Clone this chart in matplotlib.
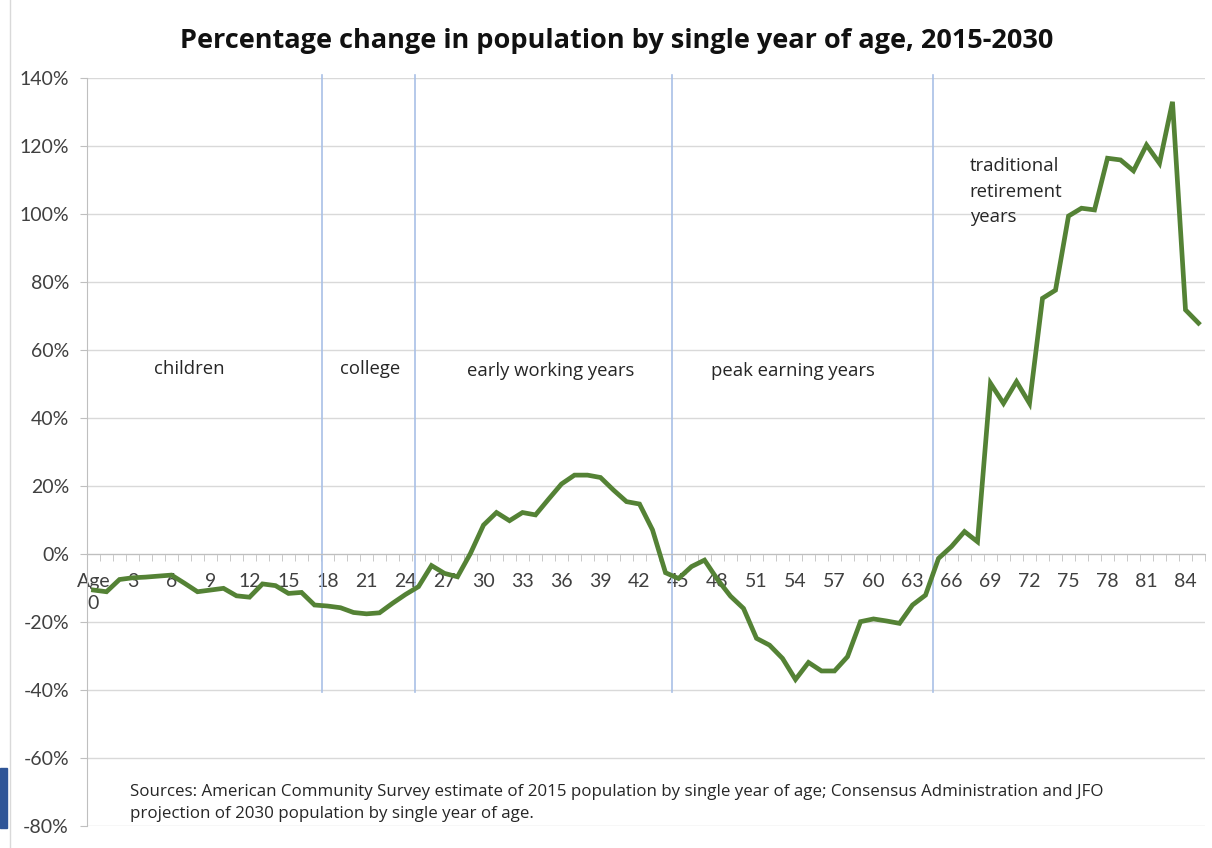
import numpy as np
import matplotlib
matplotlib.use("Agg")
import matplotlib.pyplot as plt
from matplotlib.ticker import FixedLocator, PercentFormatter
from matplotlib.patches import Rectangle
from matplotlib.lines import Line2D

plt.rcParams["font.family"] = ["Lato", "DejaVu Sans"]
plt.rcParams["axes.unicode_minus"] = False

# percentage change 2015 -> 2030, ages 0..85
ages = np.arange(0, 86)
pct_change = [
    -10.6, -11.1, -7.5, -7.0, -6.8, -6.5, -6.2, -8.6, -11.1, -10.6,
    -10.1, -12.3, -12.7, -8.8, -9.3, -11.6, -11.3, -15.0, -15.3, -15.8,
    -17.2, -17.6, -17.3, -14.5, -11.9, -9.6, -3.4, -5.7, -6.7, 0.2,
    8.5, 12.2, 9.8, 12.2, 11.5, 16.1, 20.6, 23.2, 23.2, 22.5,
    18.8, 15.4, 14.7, 7.1, -5.5, -7.2, -3.7, -1.8, -7.5, -12.4,
    -16.0, -24.8, -26.8, -30.7, -36.9, -31.9, -34.4, -34.4, -30.2, -19.9,
    -19.1, -19.7, -20.4, -15.0, -12.1, -1.3, 2.2, 6.6, 3.6, 50.2,
    44.3, 50.7, 44.3, 75.2, 77.6, 99.4, 101.7, 101.2, 116.4, 115.9,
    112.7, 120.3, 114.9, 133.0, 71.8, 67.9,
]

# life-stage dividers (category position) and labels
divider_x = [17.6, 24.7, 44.5, 64.55]
stage_labels = ["children", "college", "early working years", "peak earning years"]
stage_x = [7.4, 21.3, 35.2, 53.8]
stage_y = [54.4, 54.4, 53.8, 53.8]

yticks = list(range(-80, 141, 20))
xtick_ages = list(range(0, 85, 3))
xtick_labels = ["Age\n0"] + [str(a) for a in xtick_ages[1:]]

body_font = ["Open Sans", "DejaVu Sans"]

fig = plt.figure(figsize=(12.12, 8.48), dpi=100, facecolor="white")
ax = fig.add_axes([87 / 1212, 1 - 826 / 848, (1205 - 87) / 1212, (826 - 78) / 848])

ax.set_xlim(-0.5, 85.5)
ax.set_ylim(-80, 140)

ax.yaxis.set_major_locator(FixedLocator(yticks))
ax.yaxis.set_major_formatter(PercentFormatter(decimals=0))
ax.grid(axis="y", color="#d9d9d9", linewidth=1)
ax.set_axisbelow(True)

for s in ["top", "right"]:
    ax.spines[s].set_visible(False)
ax.spines["left"].set_color("#bfbfbf")
ax.spines["bottom"].set_position(("data", 0))
ax.spines["bottom"].set_color("#bfbfbf")

ax.xaxis.set_major_locator(FixedLocator(xtick_ages))
ax.set_xticklabels(xtick_labels)
ax.xaxis.set_minor_locator(FixedLocator(np.arange(-0.5, 86, 1)))
ax.tick_params(axis="x", which="major", length=0, pad=14, labelsize=14,
               labelcolor="#404040")
ax.tick_params(axis="x", which="minor", length=5, color="#bfbfbf", direction="out")
for lbl in ax.get_xticklabels():
    lbl.set_verticalalignment("top")
    lbl.set_linespacing(1.3)
ax.tick_params(axis="y", length=5, color="#bfbfbf", pad=8, labelsize=14,
               labelcolor="#404040")

for x in divider_x:
    ax.plot([x, x], [-40.5, 141], color="#a9c0e6", linewidth=1.2, zorder=2,
            clip_on=False)

ax.plot(ages, pct_change, color="#548235", linewidth=3.4, zorder=3,
        solid_joinstyle="miter")

for txt, x, y in zip(stage_labels, stage_x, stage_y):
    ax.text(x, y, txt, ha="center", va="center", fontsize=13.3, color="#262626",
            family=body_font)
ax.text(67.4, 116.8, "traditional\nretirement\nyears", ha="left", va="top",
        fontsize=13.3, color="#262626", linespacing=1.55, family=body_font)

ax.text(2.8, -67.7,
        "Sources: American Community Survey estimate of 2015 population by single year of age; "
        "Consensus Administration and JFO\nprojection of 2030 population by single year of age.",
        ha="left", va="top", fontsize=12.2, color="#262626", linespacing=1.45,
        family=body_font)

fig.text(617 / 1212, 1 - 41 / 848,
         "Percentage change in population by single year of age, 2015-2030",
         ha="center", va="center", fontsize=19.5, fontweight="bold", color="#111111",
         family=body_font)

# chart frame edge and the stray blue tab at the left
fig.add_artist(Line2D([10 / 1212, 10 / 1212], [0, 1], color="#d9d9d9", linewidth=1))
fig.add_artist(Rectangle((0, 1 - 828 / 848), 7 / 1212, 60 / 848,
                         transform=fig.transFigure, color="#2f5597"))

fig.savefig("out.png", dpi=100, facecolor=fig.get_facecolor())
